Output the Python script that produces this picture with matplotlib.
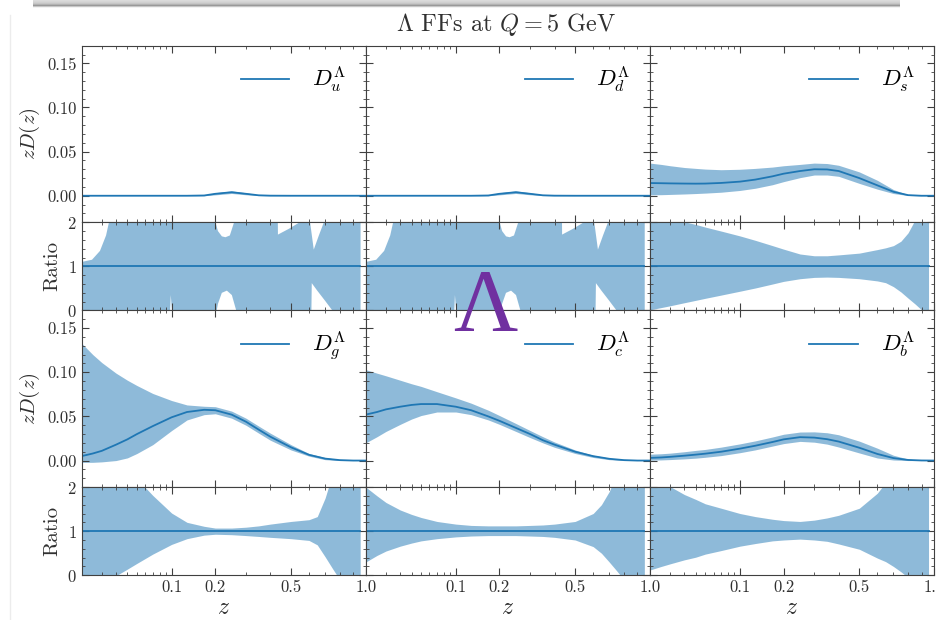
import numpy as np
import matplotlib
matplotlib.use("Agg")
import matplotlib.pyplot as plt
from matplotlib.ticker import FixedLocator, FixedFormatter, MultipleLocator

plt.rcParams['font.family'] = 'serif'
plt.rcParams['font.serif'] = ['cmr10']
plt.rcParams['mathtext.fontset'] = 'cm'
plt.rcParams['axes.formatter.use_mathtext'] = True

# z grid of the FF panels
z_main = [0.01, 0.015, 0.02, 0.03, 0.04, 0.05, 0.07, 0.1, 0.13, 0.17, 0.2,
          0.25, 0.3, 0.35, 0.4, 0.5, 0.6, 0.7, 0.8, 0.9, 1.0]

# zD(z): central, lower, upper
u_c = [0, 0, 0, 0, 0, 0, 0, 0, 0, 0.0003, 0.0022, 0.0040, 0.0022, 0.0005, 0.0001, 0, 0, 0, 0, 0, 0]
u_lo = [0, 0, 0, 0, 0, 0, 0, 0, 0, 0.0000, 0.0010, 0.0026, 0.0011, 0.0002, 0.0000, 0, 0, 0, 0, 0, 0]
u_hi = [0, 0, 0, 0, 0, 0, 0, 0, 0, 0.0006, 0.0034, 0.0055, 0.0034, 0.0009, 0.0002, 0, 0, 0, 0, 0, 0]
d_c, d_lo, d_hi = u_c, u_lo, u_hi

s_c = [0.0144, 0.0142, 0.0140, 0.0138, 0.0137, 0.0138, 0.0145, 0.0160, 0.0183, 0.0220, 0.0250,
       0.0280, 0.0300, 0.0298, 0.0280, 0.0200, 0.0118, 0.0045, 0.0007, 0.0, 0.0]
s_lo = [0.0010, 0.0012, 0.0015, 0.0020, 0.0025, 0.0030, 0.0040, 0.0060, 0.0085, 0.0125, 0.0160,
        0.0205, 0.0235, 0.0235, 0.0220, 0.0140, 0.0075, 0.0025, 0.0003, 0.0, 0.0]
s_hi = [0.0370, 0.0355, 0.0340, 0.0320, 0.0310, 0.0302, 0.0295, 0.0300, 0.0310, 0.0325, 0.0340,
        0.0355, 0.0370, 0.0365, 0.0345, 0.0270, 0.0175, 0.0070, 0.0012, 0.0001, 0.0]

g_c = [0.005, 0.008, 0.011, 0.018, 0.024, 0.030, 0.039, 0.049, 0.055, 0.0575, 0.057,
       0.052, 0.044, 0.035, 0.027, 0.015, 0.0065, 0.0022, 0.0005, 0.0, 0.0]
g_lo = [-0.002, -0.002, -0.0015, 0.0, 0.003, 0.008, 0.018, 0.034, 0.046, 0.052, 0.053,
        0.048, 0.040, 0.031, 0.023, 0.012, 0.005, 0.001, 0.0, 0.0, 0.0]
g_hi = [0.133, 0.120, 0.111, 0.099, 0.091, 0.085, 0.076, 0.068, 0.063, 0.0615, 0.061,
        0.056, 0.048, 0.039, 0.031, 0.018, 0.008, 0.0035, 0.001, 0.0002, 0.0]

c_c = [0.052, 0.055, 0.058, 0.061, 0.063, 0.064, 0.064, 0.061, 0.057, 0.050, 0.045,
       0.037, 0.030, 0.023, 0.018, 0.010, 0.005, 0.002, 0.0005, 0.0, 0.0]
c_lo = [0.020, 0.027, 0.033, 0.041, 0.047, 0.051, 0.055, 0.055, 0.052, 0.046, 0.041,
        0.033, 0.026, 0.020, 0.015, 0.008, 0.0035, 0.001, 0.0, 0.0, 0.0]
c_hi = [0.103, 0.099, 0.096, 0.091, 0.087, 0.084, 0.078, 0.071, 0.065, 0.057, 0.051,
        0.042, 0.034, 0.027, 0.021, 0.012, 0.006, 0.0028, 0.0008, 0.0001, 0.0]

b_c = [0.0030, 0.0035, 0.0042, 0.0055, 0.0067, 0.0078, 0.0100, 0.0135, 0.0168, 0.0210, 0.0240,
       0.0265, 0.0260, 0.0242, 0.0215, 0.0145, 0.0075, 0.0028, 0.0007, 0.0001, 0.0]
b_lo = [0.0004, 0.0007, 0.0011, 0.0019, 0.0027, 0.0037, 0.0056, 0.0089, 0.0121, 0.0164, 0.0192,
        0.0217, 0.0208, 0.0186, 0.0153, 0.0086, 0.0029, 0.0006, 0.0, 0.0, 0.0]
b_hi = [0.0072, 0.0077, 0.0084, 0.0100, 0.0115, 0.0126, 0.0152, 0.0189, 0.0223, 0.0267, 0.0298,
        0.0323, 0.0325, 0.0315, 0.0292, 0.0220, 0.0140, 0.0060, 0.0017, 0.0002, 0.0]

# ratio panels (band / central), z grid stops where the central value vanishes
z_ratio = [0.01, 0.015, 0.02, 0.03, 0.04, 0.05, 0.07, 0.1, 0.13, 0.17, 0.2, 0.25,
           0.3, 0.35, 0.4, 0.5, 0.6, 0.65, 0.7, 0.75, 0.8, 0.85, 0.9, 0.955]

rs_lo = [0.015, 0.066, 0.107, 0.176, 0.23, 0.276, 0.349, 0.437, 0.51, 0.60, 0.66, 0.72,
         0.75, 0.757, 0.75, 0.72, 0.67, 0.63, 0.54, 0.42, 0.28, 0.15, 0.015, -0.1]
rs_hi = [2.22, 2.15, 2.10, 2.01, 1.95, 1.89, 1.80, 1.69, 1.59, 1.47, 1.39, 1.28,
         1.24, 1.24, 1.26, 1.30, 1.38, 1.42, 1.47, 1.57, 1.76, 2.05, 2.5, 2.5]

rg_lo = [-0.5, -0.3, -0.15, -0.01, 0.14, 0.27, 0.48, 0.70, 0.83, 0.91, 0.93, 0.92,
         0.90, 0.88, 0.86, 0.83, 0.79, 0.69, 0.42, 0.15, -0.1, -0.3, -0.3, -0.3]
rg_hi = [3.0, 3.0, 3.0, 2.8, 2.4, 2.19, 1.81, 1.41, 1.20, 1.11, 1.07, 1.07,
         1.09, 1.12, 1.16, 1.22, 1.26, 1.33, 1.75, 2.3, 2.5, 2.5, 2.5, 2.5]

rc_lo = [0.30, 0.45, 0.55, 0.66, 0.73, 0.78, 0.83, 0.87, 0.89, 0.90, 0.90, 0.90,
         0.89, 0.88, 0.86, 0.80, 0.65, 0.50, 0.30, 0.10, -0.1, -0.3, -0.3, -0.3]
rc_hi = [2.0, 1.8, 1.65, 1.48, 1.38, 1.31, 1.22, 1.16, 1.13, 1.12, 1.12, 1.12,
         1.13, 1.14, 1.16, 1.22, 1.40, 1.60, 1.90, 2.3, 2.5, 2.5, 2.5, 2.5]

rb_lo = [0.12, 0.20, 0.26, 0.35, 0.41, 0.48, 0.56, 0.66, 0.72, 0.78, 0.80, 0.82,
         0.80, 0.77, 0.71, 0.59, 0.39, 0.31, 0.20, 0.08, -0.05, -0.2, -0.2, -0.2]
rb_hi = [2.4, 2.2, 2.01, 1.83, 1.72, 1.62, 1.52, 1.40, 1.33, 1.27, 1.24, 1.22,
         1.25, 1.30, 1.36, 1.52, 1.86, 2.1, 2.5, 2.5, 2.5, 2.5, 2.5, 2.5]

# u (and d) ratio: central crosses zero, so edges have their own z points
ru_hi_z = [0.01, 0.0146, 0.0189, 0.0227, 0.0254, 0.05, 0.1, 0.19, 0.1988, 0.2075, 0.2192,
           0.23, 0.244, 0.2606, 0.3, 0.433, 0.435, 0.4887, 0.5474, 0.58, 0.6047, 0.6286,
           0.66, 0.6977, 0.75, 0.958]
ru_hi = [1.10, 1.15, 1.35, 1.70, 2.10, 3.0, 3.0, 3.0, 2.05, 1.80, 1.68,
         1.66, 1.70, 2.05, 3.0, 3.0, 1.72, 1.85, 2.0, 2.2, 2.05, 1.38,
         1.70, 2.05, 3.0, 3.0]
ru_lo_z = [0.01, 0.097, 0.0985, 0.101, 0.2016, 0.2075, 0.219, 0.2346, 0.2506, 0.2675,
           0.614, 0.6165, 0.65, 0.70, 0.76, 0.958]
ru_lo = [-1.0, -0.1, 0.35, -0.05, -0.1, 0.15, 0.40, 0.45, 0.35, -0.05,
         -0.1, 0.62, 0.45, 0.22, -0.05, -0.5]

top_row = [('u', u_c, u_lo, u_hi), ('d', d_c, d_lo, d_hi), ('s', s_c, s_lo, s_hi)]
bot_row = [('g', g_c, g_lo, g_hi), ('c', c_c, c_lo, c_hi), ('b', b_c, b_lo, b_hi)]
top_ratio = [None, None, (rs_lo, rs_hi)]
bot_ratio = [(rg_lo, rg_hi), (rc_lo, rc_hi), (rb_lo, rb_hi)]

blue = '#1f77b4'
spine = '#404040'
txt = '#303030'

fig = plt.figure(figsize=(9.36, 6.2), dpi=100)
gs = fig.add_gridspec(4, 3, height_ratios=[2, 1, 2, 1], hspace=0, wspace=0,
                      left=0.0871, right=0.9979, top=0.9263, bottom=0.0721)


def style_x(ax, labels):
    ax.set_xscale('function', functions=(np.cbrt, lambda t: t ** 3))
    ax.set_xlim(0.01, 1.0)
    ax.xaxis.set_major_locator(FixedLocator([0.1, 0.2, 0.5, 1.0]))
    ax.xaxis.set_minor_locator(FixedLocator([0.02, 0.03, 0.04, 0.05, 0.06, 0.07, 0.08, 0.09,
                                             0.3, 0.4, 0.6, 0.7, 0.8, 0.9]))
    ax.xaxis.set_major_formatter(FixedFormatter(['0.1', '0.2', '0.5', '1.0']))
    ax.tick_params(which='both', direction='in', top=True, right=True,
                   color=spine, labelcolor=txt, labelsize=12, labelbottom=labels)
    ax.tick_params(which='major', length=5, width=0.8)
    ax.tick_params(which='minor', length=2.5, width=0.6)
    for sp in ax.spines.values():
        sp.set_color(spine)


for r, (row, ratios) in enumerate([(top_row, top_ratio), (bot_row, bot_ratio)]):
    for j in range(3):
        name, cen, lo, hi = row[j]
        ax = fig.add_subplot(gs[2 * r, j])
        ax.fill_between(z_main, lo, hi, color=blue, alpha=0.5, lw=0)
        ax.plot(z_main, cen, color=blue, lw=1.3, label=r'$D_{%s}^{\Lambda}$' % name)
        style_x(ax, False)
        ax.set_ylim(-0.03, 0.17)
        ax.yaxis.set_major_locator(FixedLocator([0.0, 0.05, 0.10, 0.15]))
        ax.yaxis.set_minor_locator(MultipleLocator(0.01))
        if j == 0:
            ax.set_yticklabels(['0.00', '0.05', '0.10', '0.15'])
            ax.set_ylabel(r'$zD(z)$', fontsize=15, color=txt)
        else:
            ax.tick_params(labelleft=False)
        ax.legend(loc='upper right', frameon=False, fontsize=16.5, handlelength=2.1,
                  borderaxespad=0.45, handletextpad=1.0)

        rx = fig.add_subplot(gs[2 * r + 1, j])
        if ratios[j] is None:
            poly_z = ru_hi_z + ru_lo_z[::-1]
            poly_v = ru_hi + ru_lo[::-1]
            rx.fill(poly_z, poly_v, color=blue, alpha=0.5, lw=0)
        else:
            rx.fill_between(z_ratio, ratios[j][0], ratios[j][1], color=blue, alpha=0.5, lw=0)
        rx.plot([z_ratio[0], z_ratio[-1]], [1, 1], color=blue, lw=1.3)
        style_x(rx, r == 1)
        rx.set_ylim(0, 2)
        rx.yaxis.set_major_locator(FixedLocator([0, 1, 2]))
        rx.yaxis.set_minor_locator(MultipleLocator(0.2))
        if j == 0:
            rx.set_ylabel('Ratio', fontsize=15, color=txt)
        else:
            rx.tick_params(labelleft=False)
        if r == 1:
            rx.set_xlabel(r'$z$', fontsize=17, color=txt, labelpad=1)

fig.suptitle(r'$\Lambda$ FFs at $Q = 5$ GeV', x=0.541, y=0.982, fontsize=17.5, color=txt)

# big purple logo letter sitting over the middle column
fig.text(0.519, 0.502, '\u039b', fontsize=64, color='#7030a0', ha='center', va='center',
         family='Liberation Serif')

# screenshot shadow bar at the top edge
bar = fig.add_axes([33 / 936, 1 - 9 / 620, 867 / 936, 9 / 620])
shade = np.array([[0.86], [0.84], [0.82], [0.78], [0.70], [0.60], [0.78], [0.95], [1.0]])
bar.imshow(shade, cmap='gray', vmin=0, vmax=1, aspect='auto', interpolation='bilinear')
bar.axis('off')
fig.add_artist(plt.Line2D([10 / 936, 10 / 936], [0, 1 - 15 / 620], color='#ececec', lw=1))

fig.savefig('out.png', dpi=100)
